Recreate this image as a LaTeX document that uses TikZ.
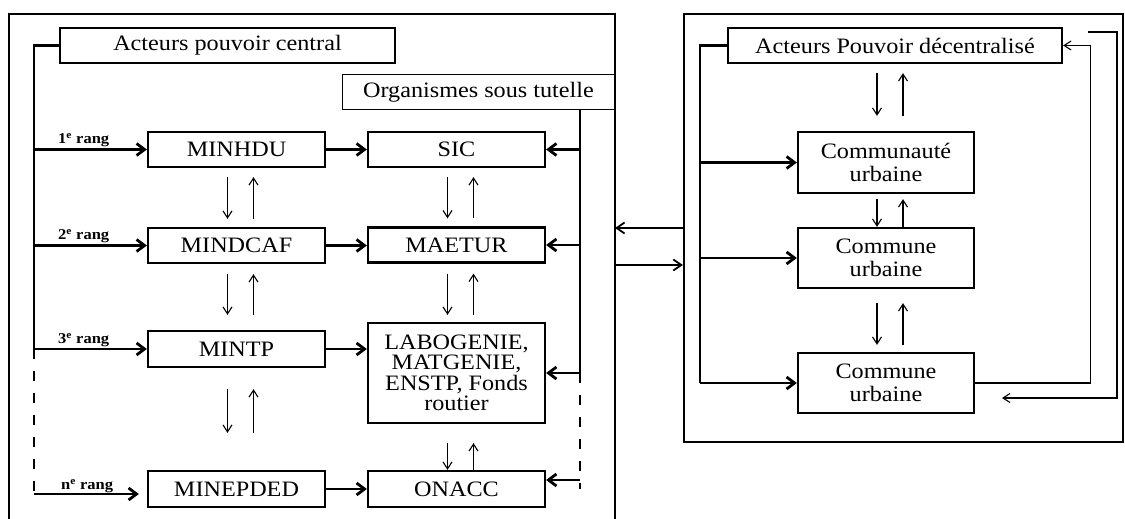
\documentclass[tikz,border=0pt]{standalone}
\usepackage{fontspec}
\setmainfont{Liberation Serif}[FakeStretch=1.1]
\usetikzlibrary{arrows.meta}
\usetikzlibrary{positioning}
\tikzstyle{box} = [rectangle, draw=black, line width=2.2pt, minimum width=177pt, minimum height=35pt, text centered, align=center, inner sep=2pt, font=\fontsize{22}{23}\selectfont]
\tikzstyle{head} = [box, minimum width=335pt]
\tikzstyle{tutellebox} = [box, line width=1pt, minimum width=273pt, minimum height=34pt]
\tikzstyle{bus} = [line width=2.8pt]
\tikzstyle{busarrow} = [bus, -{Straight Barb[length=8pt,width=12pt]}]
\tikzstyle{trait} = [bus, dash pattern=on 10pt off 12pt]
\tikzstyle{fleche} = [line width=1.1pt, -{Straight Barb[length=7pt,width=9pt]}]
\tikzstyle{link} = [line width=1.8pt, -{Straight Barb[length=8pt,width=11pt]}]
\tikzstyle{rang} = [above, inner sep=1pt, font=\bfseries\fontsize{15}{15}\selectfont]

\begin{document}
\begin{tikzpicture}[x=1pt, y=-1pt]
\useasboundingbox (0,0) rectangle (1125,519);

% cadres
\draw[line width=2.2pt] (9,530) |- (615,14) -- (615,530);
\node[draw, line width=2.2pt, minimum width=439pt, minimum height=428pt, inner sep=0pt] (decframe) at (903.5,228) {};
\coordinate (cfr) at (615,228);

% pouvoir central
\node (central) [head] at (227.5,45.5) {Acteurs pouvoir central};
\node (tutelle) [tutellebox] at (478.5,92) {Organismes sous tutelle};
\node (minhdu) [box] at (236.5,149.5) {MINHDU};
\node (sic) [box] at (456.5,149.5) {SIC};
\node (mindcaf) [box] at (236.5,245.5) {MINDCAF};
\node (maetur) [box] at (456.5,245) {MAETUR};
\node (mintp) [box, minimum height=36pt] at (236.5,349) {MINTP};
\node (labo) [box, minimum height=100pt, font=\fontsize{22}{20.5}\selectfont] at (456.5,373) {LABOGENIE,\\ MATGENIE,\\ ENSTP, Fonds\\ routier};
\node (minepded) [box, minimum height=36pt] at (236.5,489) {MINEPDED};
\node (onacc) [box, minimum height=36pt] at (456.5,489) {ONACC};

% pouvoir decentralise
\node (decentral) [head, minimum width=334pt] at (895,45.5) {Acteurs Pouvoir décentralisé};
\node (communaute) [box, minimum width=176pt, minimum height=61pt] at (886,162.5) {Communauté\\ urbaine};
\node (commune1) [box, minimum width=176pt, minimum height=60pt] at (886,258) {Commune\\ urbaine};
\node (commune2) [box, minimum width=176pt, minimum height=60pt] at (886,383) {Commune\\ urbaine};

% rangs
\coordinate (lbus) at (34,0);
\coordinate (rbus) at (580,0);
\coordinate (dbus) at (700,0);
\coordinate (nrang) at ([yshift=-5pt]minepded.west);
\coordinate (oin) at ([yshift=9pt]onacc.east);
\draw[bus] (central.west) -| (mintp.west -| lbus);
\draw[trait] (mintp.west -| lbus) -- (nrang -| lbus);
\draw[busarrow] (minhdu.west -| lbus) -- node[rang, pos=0.44] {1\textsuperscript{e} rang} (minhdu.west);
\draw[busarrow] (mindcaf.west -| lbus) -- node[rang, pos=0.44] {2\textsuperscript{e} rang} (mindcaf.west);
\draw[busarrow] (mintp.west -| lbus) -- node[rang, pos=0.44] {3\textsuperscript{e} rang} (mintp.west);
\draw[busarrow, shorten >=8pt] (nrang -| lbus) -- node[rang, pos=0.47, inner sep=0pt] {n\textsuperscript{e} rang} (nrang);

\draw[busarrow] (minhdu) -- (sic);
\draw[busarrow] (mindcaf.east) -- (mindcaf.east -| maetur.west);
\draw[busarrow] (mintp.east) -- (mintp.east -| labo.west);
\draw[busarrow] (minepded) -- (onacc);

% tutelle
\draw[bus] (tutelle.south -| rbus) -- (labo.east -| rbus);
\draw[trait] (labo.east -| rbus) -- (onacc.east -| rbus);
\draw[busarrow] (sic.east -| rbus) -- (sic.east);
\draw[busarrow] (maetur.east -| rbus) -- (maetur.east);
\draw[busarrow] (labo.east -| rbus) -- (labo.east);
\draw[busarrow] (oin -| rbus) -- (oin);

% fleches verticales
\foreach \haut/\bas/\sa/\sb in {minhdu/mindcaf/9pt/8pt, sic/maetur/9pt/8pt, mindcaf/mintp/10pt/15pt, maetur/labo/10pt/7pt, mintp/minepded/21pt/37pt, labo/onacc/19pt/0pt, decentral/communaute/9pt/15pt, communaute/commune1/5pt/0pt, commune1/commune2/14pt/7pt}
{
  \coordinate (bg) at ([xshift=-9pt]\bas.north);
  \coordinate (bd) at ([xshift=17pt]\bas.north);
  \draw[fleche, shorten <=\sa, shorten >=\sb] (bg |- \haut.south) -- (bg);
  \draw[fleche, shorten <=\sb, shorten >=\sa] (bd) -- (bd |- \haut.south);
}

% communes
\draw[bus] (decentral.west) -| (commune2.west -| dbus);
\draw[busarrow] (communaute.west -| dbus) -- (communaute.west);
\draw[busarrow] (commune1.west -| dbus) -- (commune1.west);
\draw[busarrow] (commune2.west -| dbus) -- (commune2.west);

% retours
\coordinate (retour) at (1088,32);
\coordinate (retourfin) at (1002,398);
\draw[fleche] (commune2.east) -| ([xshift=27pt]decentral.east) -- (decentral.east);
\draw[fleche] (retour) -| ([xshift=115pt]retourfin) -- (retourfin);

% entre les deux
\draw[link] (decframe.west) -- (cfr);
\draw[link] ([yshift=-37pt]cfr) -- ([yshift=-37pt]decframe.west);
\end{tikzpicture}
\end{document}
